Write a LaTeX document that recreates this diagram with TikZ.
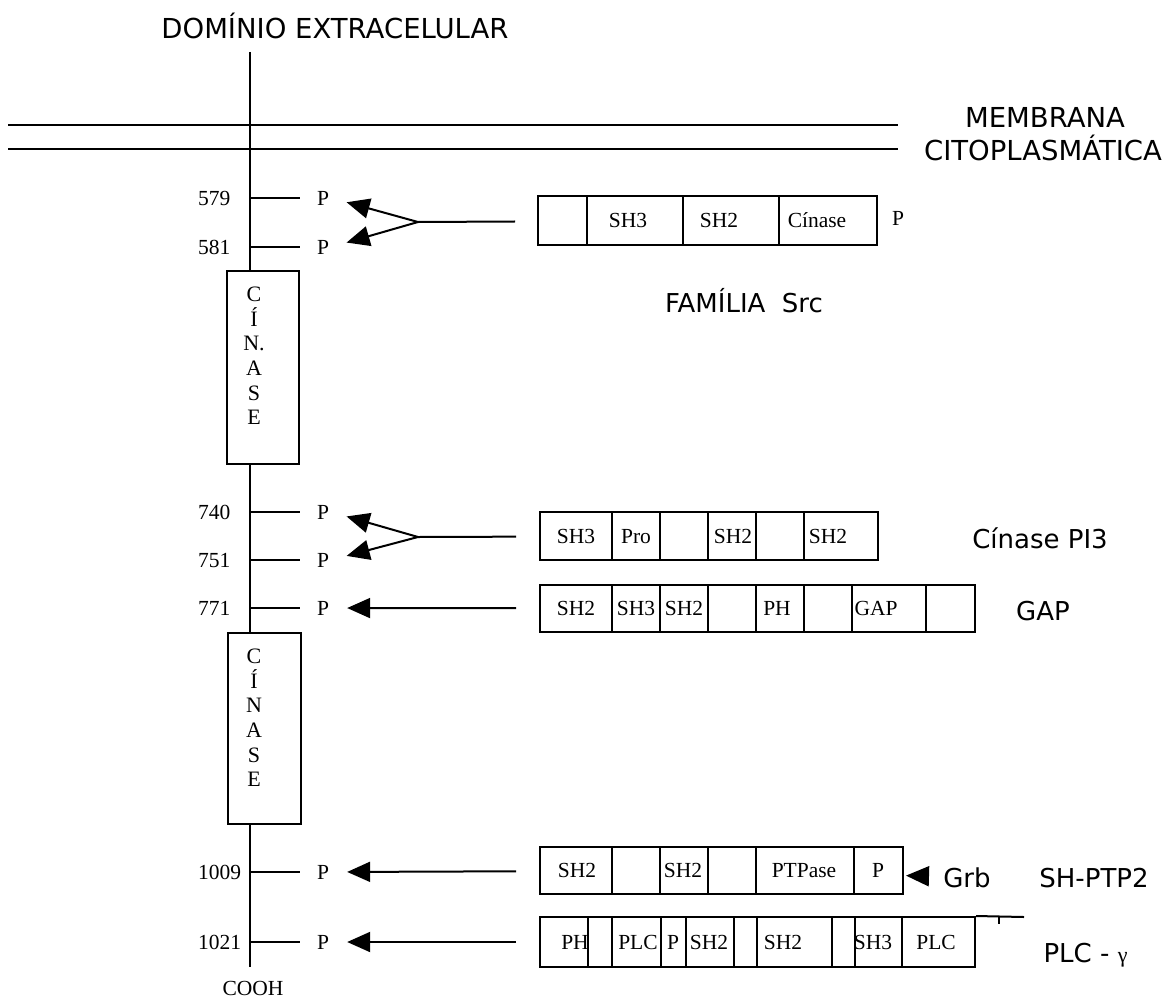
\documentclass[tikz,border=0pt]{standalone}
\usepackage{fontspec}
\setmainfont{Liberation Serif}
\newfontfamily\labelfont{DejaVu Sans}
\usetikzlibrary{arrows.meta}

\tikzset{
  lbl/.style={font=\labelfont\fontsize{26}{30}\selectfont, anchor=base},
  bigl/.style={font=\labelfont\fontsize{27.5}{32}\selectfont, anchor=base},
  serif/.style={font=\fontsize{21.5}{24}\selectfont, text height=14pt, text depth=0pt, inner sep=2pt},
  num/.style={serif, anchor=west},
  dombox/.style={draw, line width=2pt, fill=white, inner sep=0pt},
  kinletters/.style={align=center, font=\fontsize{22}{24.6}\selectfont},
  link/.style={line width=2pt, -{Triangle[length=23pt,width=20pt]}},
}

\begin{document}
\begin{tikzpicture}[x=1pt,y=-1pt]
  \useasboundingbox (0,0) rectangle (1172,998);

  % extracellular side and membrane
  \node[bigl] (extra) at (335,38) {DOMÍNIO EXTRACELULAR};
  \draw[line width=1.8pt] (8,125) -- (898,125);
  \draw[line width=1.8pt] (8,149) -- (898,149);
  \node[bigl] (membrana) at (1045,127) {MEMBRANA};
  \node[bigl] (citopl) at (1043,160) {CITOPLASMÁTICA};

  % receptor chain
  \coordinate (nterm) at (250,52);
  \coordinate (cterm) at (250,967);
  \draw[line width=2pt] (nterm) -- (cterm);
  \node[serif] (cooh) at (253,988) {COOH};

  % kinase domains
  \node[dombox, minimum width=72pt, minimum height=193pt] (kin1) at (263,367.5) {};
  \node[kinletters] (kin1txt) at (254,356) {C\\Í\\N.\\A\\S\\E};
  \node[dombox, minimum width=73pt, minimum height=191pt] (kin2) at (264.5,728.5) {};
  \node[kinletters] (kin2txt) at (254,718) {C\\Í\\N\\A\\S\\E};

  % phosphotyrosines
  \foreach \y/\n in {198/579, 247/581, 512/740, 560/751, 608/771, 872/1009, 942/1021} {
    \draw[line width=2pt] (250,\y) -- (300,\y);
    \node[num] (num\n) at (196,\y) {\n};
    \node[serif] (p\n) at (323,\y) {P};
  }

  % Src family
  \node[dombox, minimum width=339pt, minimum height=49pt] (src) at (707.5,220.5) {};
  \foreach \x in {587,683,779}
    \draw[line width=2pt] (\x,196) -- (\x,245);
  \foreach \x/\t in {628/SH3, 719/SH2, 817/Cínase}
    \node[serif] (src\x) at (\x,220) {\t};
  \node[serif] (srcp) at (898,218) {P};
  \node[lbl] (srclbl) at (744,312) {FAMÍLIA\ \ Src};
  \coordinate (srcfork) at (418,222);
  \draw[line width=2pt, shorten >=22pt] (srcfork) -- (src);
  \draw[link, shorten >=16pt] (srcfork) -- (p579.east);
  \draw[link, shorten >=16pt] (srcfork) -- (p581.east);

  % PI3 kinase
  \node[dombox, minimum width=338pt, minimum height=48pt] (pi3) at (709,536) {};
  \foreach \x in {612,660,708,756,804}
    \draw[line width=2pt] (\x,512) -- (\x,560);
  \foreach \x/\t in {576/SH3, 636/Pro, 733/SH2, 828/SH2}
    \node[serif] (pi3\x) at (\x,536) {\t};
  \node[lbl] (pi3lbl) at (1040,548) {Cínase PI3};
  \coordinate (pi3fork) at (418,537);
  \draw[line width=2pt, shorten >=23pt] (pi3fork) -- (pi3);
  \draw[link, shorten >=16pt] (pi3fork) -- (p740.east);
  \draw[link, shorten >=16pt] (pi3fork) -- (p751.east);

  % GAP
  \node[dombox, minimum width=435pt, minimum height=47pt] (gap) at (757.5,608.5) {};
  \foreach \x in {612,660,708,756,804,852,926}
    \draw[line width=2pt] (\x,585) -- (\x,632);
  \foreach \x/\t in {576/SH2, 636/SH3, 684/SH2, 777/PH, 876/GAP}
    \node[serif] (gap\x) at (\x,608) {\t};
  \node[lbl] (gaplbl) at (1043,620) {GAP};
  \draw[link, shorten <=23pt, shorten >=16pt] (gap) -- (p771.east);

  % SH-PTP2
  \node[dombox, minimum width=363pt, minimum height=47pt] (ptp2) at (721.5,870.5) {};
  \foreach \x in {612,660,708,756,854}
    \draw[line width=2pt] (\x,847) -- (\x,894);
  \foreach \x/\t in {577/SH2, 683/SH2, 804/PTPase, 878/P}
    \node[serif] (ptp2\x) at (\x,870) {\t};
  \node[lbl] (grb) at (967,887) {Grb};
  \node[lbl] (ptp2lbl) at (1094,887) {SH-PTP2};
  \draw[link, shorten <=13pt, shorten >=2pt] (grb) -- (ptp2);
  \draw[link, shorten <=23pt, shorten >=16pt] (ptp2) -- (p1009.east);

  % PLC gamma
  \node[dombox, minimum width=435pt, minimum height=50pt] (plc) at (757.5,942) {};
  \foreach \x in {588,612,661,686,734,757,832,855,902}
    \draw[line width=2pt] (\x,917) -- (\x,967);
  \foreach \x/\t in {575/PH, 638/PLC, 673/P, 709/SH2, 783/SH2, 873/SH3, 936/PLC}
    \node[serif] (plc\x) at (\x,942) {\t};
  \coordinate (plcend) at (1024,917);
  \draw[line width=2pt] (plc.north east) -- (plcend);
  \draw[line width=1.4pt] (999,917) -- (999,924);
  \node[lbl, anchor=base west] (plclbl) at (1040,962) {PLC - {\rmfamily\fontsize{22}{24}\selectfont γ}};
  \draw[link, shorten <=23pt, shorten >=16pt] (plc) -- (p1021.east);

\end{tikzpicture}
\end{document}
